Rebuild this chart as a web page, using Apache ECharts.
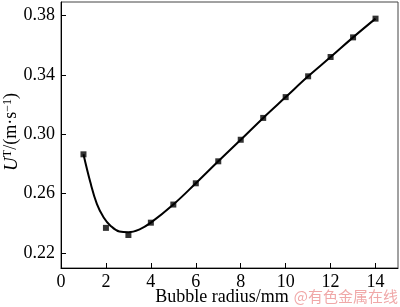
<!DOCTYPE html>
<html><head><meta charset="utf-8">
<script src="https://cdn.jsdelivr.net/npm/echarts@6/dist/echarts.min.js"></script>
<style>html,body{margin:0;padding:0;background:#fff}#c{width:400px;height:307px}</style>
</head><body><div id="c"></div>
<script>
// Measured data points
const radius = [1,2,3,4,5,6,7,8,9,10,11,12,13,14];
const velocity = [0.2865,0.2370,0.2322,0.2405,0.2527,0.2670,0.2818,0.2963,0.3110,0.3250,0.3390,0.3520,0.3652,0.3778];
// Fitted curve
const fitX = [1,1.3,1.6,1.9,2.2,2.6,3,3.5,4,5,6,7,8,9,10,11,12,13,14];
const fitY = [0.2865,0.2680,0.2530,0.2440,0.2385,0.2345,0.2340,0.2360,0.2405,0.2527,0.2670,0.2818,0.2963,0.3110,0.3250,0.3390,0.3520,0.3652,0.3778];
const yTicks = [0.22,0.26,0.30,0.34,0.38];

const font = '"Liberation Serif","Times New Roman",serif';
const chart = echarts.init(document.getElementById('c'));
chart.setOption({
  animation:false,
  grid:{left:61,right:2,top:2,bottom:39,show:true,borderColor:'#444',borderWidth:1,
    outerBoundsMode:'none',containLabel:false},
  xAxis:{type:'value',min:0,max:15,interval:2,
    name:'Bubble radius/mm',nameLocation:'middle',nameGap:20,nameMoveOverlap:false,
    nameTextStyle:{fontFamily:font,fontSize:18,color:'#000',padding:[0,15,0,0]},
    axisLine:{lineStyle:{color:'#000',width:1}},
    axisTick:{inside:true,length:5,lineStyle:{color:'#000'}},
    axisLabel:{fontFamily:font,fontSize:18,color:'#000',margin:5,showMaxLabel:false},
    splitLine:{show:false}},
  yAxis:{type:'value',min:0.21,max:0.389,
    name:'{u|U}{sup|T}{n|/(m·s}{sup|−1}{n|)}',nameLocation:'middle',nameGap:40,nameRotate:90,nameMoveOverlap:false,
    nameTextStyle:{fontFamily:font,fontSize:18,color:'#000',padding:[0,0,0,6],
      rich:{u:{fontFamily:font,fontSize:19,fontStyle:'italic',color:'#000'},
            n:{fontFamily:font,fontSize:18,color:'#000'},
            sup:{fontFamily:font,fontSize:12,color:'#000',verticalAlign:'top',padding:[0,0,5,0]}}},
    axisLine:{show:true,lineStyle:{color:'#000',width:1}},
    axisTick:{inside:true,length:5,lineStyle:{color:'#000'},customValues:yTicks},
    axisLabel:{fontFamily:font,fontSize:18,color:'#000',margin:6,customValues:yTicks,
      formatter:v=>v.toFixed(2)},
    splitLine:{show:false}},
  graphic:[{type:'text',right:2,bottom:3,style:{text:'@有色金属在线',fill:'#f0a8a8',
    font:'15px "Noto Sans CJK SC",sans-serif'}}],
  series:[
    {type:'line',data:fitX.map((x,i)=>[x,fitY[i]]),smooth:0.4,showSymbol:false,
     lineStyle:{color:'#000',width:2},z:2},
    {type:'scatter',data:radius.map((x,i)=>[x,velocity[i]]),symbol:'rect',symbolSize:6,
     itemStyle:{color:'#000'},z:3}
  ]
});
</script></body></html>
